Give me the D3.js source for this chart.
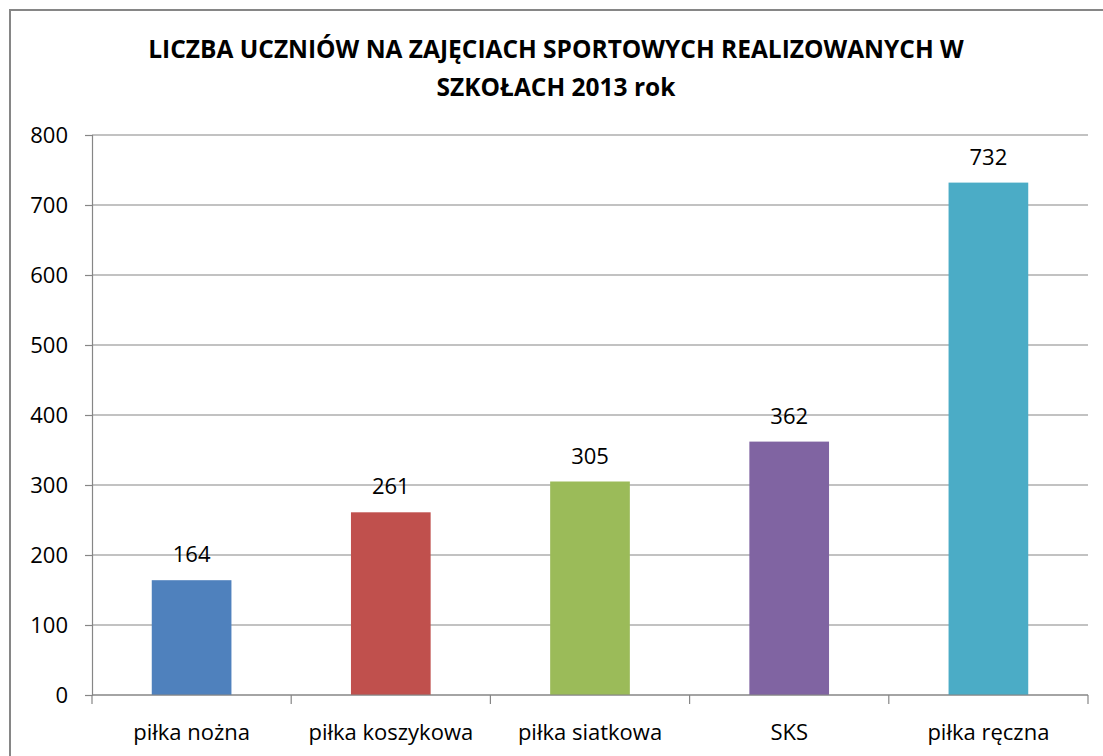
<!DOCTYPE html>
<html>
<head>
<meta charset="utf-8">
<script src="https://cdn.jsdelivr.net/npm/d3@7"></script>
<style>
  body { margin: 0; background: #fff; }
  svg { display: block; }
</style>
</head>
<body>
<div id="viz"></div>
<script>
// chart data
const categories = ["piłka nożna", "piłka koszykowa", "piłka siatkowa", "SKS", "piłka ręczna"]
const values = [164, 261, 305, 362, 732]
const colors = ["#4F81BD", "#C0504D", "#9BBB59", "#8064A2", "#4BACC6"]
const yTicks = [0, 100, 200, 300, 400, 500, 600, 700, 800]
const titleLines = ["LICZBA UCZNIÓW NA ZAJĘCIACH SPORTOWYCH REALIZOWANYCH W", "SZKOŁACH 2013 rok"]

const width = 1103
const height = 756
const font = "'Open Sans', 'DejaVu Sans', sans-serif"

const svg = d3.select("#viz").append("svg")
    .attr("width", width)
    .attr("height", height)

// outer chart frame (runs off the right and bottom edges)
svg.append("rect")
    .attr("x", 10).attr("y", 10)
    .attr("width", width + 20).attr("height", height + 20)
    .attr("fill", "#fff")
    .attr("stroke", "#868686")
    .attr("stroke-width", 2)

// title
svg.append("g").selectAll("text")
    .data(titleLines)
    .enter().append("text")
    .attr("x", 556)
    .attr("y", (d, i) => 58 + i * 38)
    .attr("text-anchor", "middle")
    .style("font-family", font)
    .style("font-weight", "bold")
    .style("font-size", "24.5px")
    .style("fill", "#000")
    .text(d => d)

const x = d3.scaleBand()
    .domain(categories)
    .range([92, 1088])
    .paddingInner(0.6)
    .paddingOuter(0.3)

const y = d3.scaleLinear()
    .domain([0, 800])
    .range([695, 135])

// gridlines
svg.append("g").selectAll("line")
    .data(yTicks)
    .enter().append("line")
    .attr("x1", 92).attr("x2", 1088)
    .attr("y1", d => y(d)).attr("y2", d => y(d))
    .attr("stroke", "#868686")
    .attr("stroke-width", 1.2)

// y axis
const yAxis = svg.append("g")
    .attr("transform", "translate(92,0)")
    .call(d3.axisLeft(y).tickValues(yTicks).tickSize(7).tickPadding(17))
yAxis.select(".domain").attr("stroke", "#868686").attr("stroke-width", 1.2)
yAxis.selectAll(".tick line").attr("stroke", "#868686").attr("stroke-width", 1.2)
yAxis.selectAll("text")
    .style("font-family", font)
    .style("font-size", "22px")
    .style("fill", "#000")

// bars
svg.append("g").selectAll("rect")
    .data(values)
    .enter().append("rect")
    .attr("x", (d, i) => x(categories[i]))
    .attr("y", d => y(d))
    .attr("width", x.bandwidth())
    .attr("height", d => y(0) - y(d))
    .attr("fill", (d, i) => colors[i])

// data labels
svg.append("g").selectAll("text")
    .data(values)
    .enter().append("text")
    .attr("x", (d, i) => x(categories[i]) + x.bandwidth() / 2)
    .attr("y", d => y(d) - 18)
    .attr("text-anchor", "middle")
    .style("font-family", font)
    .style("font-size", "22px")
    .style("fill", "#000")
    .text(d => d)

// x axis with category boundary ticks
const xa = svg.append("g")
xa.append("line")
    .attr("x1", 92).attr("x2", 1088)
    .attr("y1", y(0)).attr("y2", y(0))
    .attr("stroke", "#868686").attr("stroke-width", 1.2)
const bounds = categories.map(c => x(c) - x.step() * x.paddingInner() / 2).concat([1088])
xa.selectAll(".bt")
    .data(bounds)
    .enter().append("line")
    .attr("class", "bt")
    .attr("x1", d => d).attr("x2", d => d)
    .attr("y1", y(0)).attr("y2", y(0) + 9)
    .attr("stroke", "#868686").attr("stroke-width", 1.2)
xa.selectAll(".cl")
    .data(categories)
    .enter().append("text")
    .attr("class", "cl")
    .attr("x", d => x(d) + x.bandwidth() / 2)
    .attr("y", 740)
    .attr("text-anchor", "middle")
    .style("font-family", font)
    .style("font-size", "22px")
    .style("fill", "#000")
    .text(d => d)
</script>
</body>
</html>
